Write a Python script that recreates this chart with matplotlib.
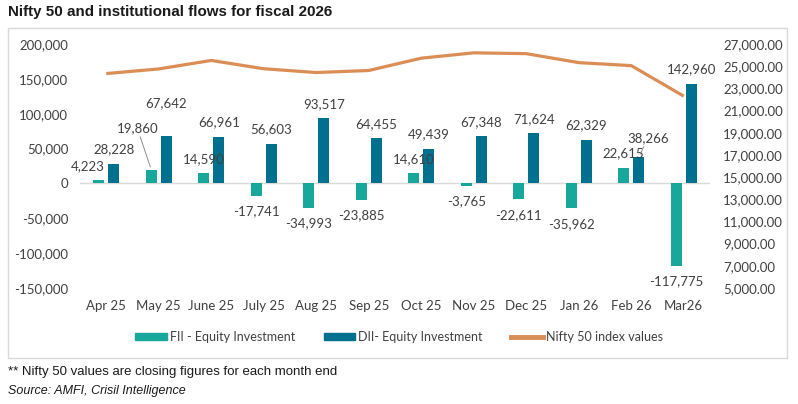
import matplotlib
matplotlib.use('Agg')
import matplotlib.pyplot as plt
from matplotlib.patches import Rectangle, Patch
from matplotlib.lines import Line2D
from matplotlib.ticker import FuncFormatter, MultipleLocator
import numpy as np

# Data (Rs crore for flows, index closing values for Nifty)
months = ['Apr 25', 'May 25', 'June 25', 'July 25', 'Aug 25', 'Sep 25',
          'Oct 25', 'Nov 25', 'Dec 25', 'Jan 26', 'Feb 26', 'Mar26']
fii = [4223, 19860, 14590, -17741, -34993, -23885,
       14610, -3765, -22611, -35962, 22615, -117775]
dii = [28228, 67642, 66961, 56603, 93517, 64455,
       49439, 67348, 71624, 62329, 38266, 142960]
nifty = [24334, 24751, 25517, 24768, 24427, 24611,
         25722, 26203, 26130, 25320, 25050, 22300]

FII_COL = '#17A89B'
DII_COL = '#00708F'
LINE_COL = '#DA8E56'
TXT = '#404040'
FONT = 'Lato'

W, H = 798, 404
fig = plt.figure(figsize=(W / 100, H / 100), dpi=100)

# outer chart border
fig.patches.append(Rectangle((8 / W, 1 - 358 / H), 779 / W, 330 / H,
                             transform=fig.transFigure, fill=False,
                             edgecolor='#D9D9D9', lw=1))

ax = fig.add_axes([80 / W, 1 - 288 / H, 630 / W, 244 / H])
x = np.arange(len(months))
bw = 0.21
off = 0.143
ax.bar(x - off, fii, bw, color=FII_COL, zorder=2)
ax.bar(x + off, dii, bw, color=DII_COL, zorder=2)
ax.axhline(0, color='#D9D9D9', lw=1, zorder=1)

ax.set_xlim(-0.5, len(months) - 0.5)
ax.set_ylim(-150000, 200000)
ax.yaxis.set_major_locator(MultipleLocator(50000))
ax.yaxis.set_major_formatter(FuncFormatter(lambda v, p: f'{v:,.0f}'))
ax.set_xticks(x)
ax.set_xticklabels(months)
for s in ax.spines.values():
    s.set_visible(False)
ax.tick_params(axis='y', length=0, pad=8.5, labelsize=9.5, labelcolor=TXT)
ax.tick_params(axis='x', length=0, pad=8.5, labelsize=9.5, labelcolor=TXT)
for lab in ax.get_xticklabels() + ax.get_yticklabels():
    lab.set_fontfamily(FONT)

ax2 = ax.twinx()
ax2.plot(x, nifty, color=LINE_COL, lw=2.3, solid_capstyle='butt')
ax2.set_ylim(5000, 27000)
ax2.set_yticks(np.arange(5000, 27001, 2000))
ax2.yaxis.set_major_formatter(FuncFormatter(lambda v, p: f'{v:,.2f}'))
for s in ax2.spines.values():
    s.set_visible(False)
ax2.tick_params(axis='y', length=0, pad=9.5, labelsize=9.5, labelcolor=TXT)
for lab in ax2.get_yticklabels():
    lab.set_fontfamily(FONT)

# data labels; a few were dragged in the original
fii_nudge = {0: (-10.5, 0), 1: (-14, 27)}
dii_nudge = {1: (0, 19), 10: (9.5, 4.5)}
leader_fii = {1}
leader_dii = {10}
lead = dict(arrowstyle='-', color='#8C8C8C', lw=0.7, shrinkA=0, shrinkB=2)

def put_label(xpos, val, nudge, leader):
    dx, dy = nudge
    base = 14.5 if val >= 0 else -15.5
    ax2.annotate(f'{val:,}', xy=(xpos, val), xycoords=ax.transData,
                 xytext=(dx, base + dy),
                 textcoords='offset pixels', ha='center', va='center',
                 fontsize=9.5, color=TXT, family=FONT, zorder=5,
                 arrowprops=lead if leader else None)

for i in range(len(months)):
    put_label(i - off, fii[i], fii_nudge.get(i, (0, 0)), i in leader_fii)
    put_label(i + off, dii[i], dii_nudge.get(i, (0, 0)), i in leader_dii)

# legend
handles = [Patch(color=FII_COL), Patch(color=DII_COL),
           Line2D([], [], color=LINE_COL, lw=3.5)]
labels = ['FII - Equity Investment', 'DII- Equity Investment',
          'Nifty 50 index values']
fig.legend(handles, labels, loc='center', bbox_to_anchor=(399 / W, 1 - 337 / H),
           ncol=3, frameon=False, handlelength=2.5, handleheight=0.55,
           handletextpad=0.25, columnspacing=2.3,
           prop={'family': FONT, 'size': 9}, labelcolor=TXT)

fig.text(8 / W, 1 - 12 / H, 'Nifty 50 and institutional flows for fiscal 2026',
         ha='left', va='center', fontsize=10.9, fontweight='bold',
         family='Liberation Sans', color='#1a1a1a')
fig.text(8 / W, 1 - 372 / H,
         '** Nifty 50 values are closing figures for each month end',
         ha='left', va='center', fontsize=9.5, family='Liberation Sans',
         color='#1a1a1a')
fig.text(8 / W, 1 - 391 / H, 'Source: AMFI, Crisil Intelligence',
         ha='left', va='center', fontsize=9.0, style='italic',
         family='Liberation Sans', color='#1a1a1a')

fig.savefig('out.png', dpi=100)
